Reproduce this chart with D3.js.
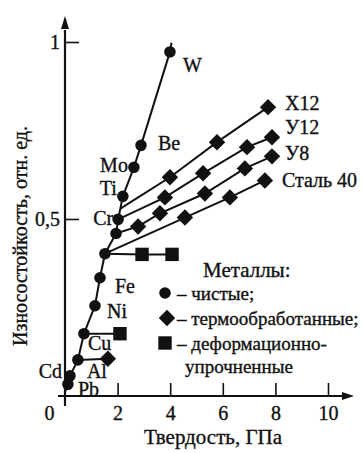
<!DOCTYPE html>
<html>
<head>
<meta charset="utf-8">
<script src="https://cdn.jsdelivr.net/npm/d3@7"></script>
<style>
  body { margin: 0; background: #fff; }
  svg text { font-family: "Liberation Serif", "DejaVu Serif", serif; fill: #111; stroke: #111; stroke-width: 0.35px; }
</style>
</head>
<body>
<div id="chart"></div>
<script>
// ---- data (hardness, GPa ; wear resistance, rel. units) ----
const pureNames = ["", "Pb", "Cd", "Al", "Cu", "Ni", "Fe", "", "", "Cr", "Ti", "Mo", "Be", "W", ""];
const pureX = [0.03, 0.11, 0.19, 0.49, 0.72, 1.14, 1.33, 1.52, 1.94, 2.02, 2.20, 2.62, 2.89, 3.99, 4.05];
const pureY = [0.015, 0.033, 0.057, 0.102, 0.176, 0.255, 0.334, 0.402, 0.459, 0.499, 0.564, 0.646, 0.708, 0.972, 0.998];
const pureDot = [false, true, true, true, true, true, true, true, true, true, true, true, true, true, false];

const steelNames = ["Х12", "У12", "У8", "Сталь 40"];
const steelStart = [[2.12, 0.53], [2.02, 0.499], [1.94, 0.459], [1.52, 0.402]];
const steelX = [
    [3.99, 5.78, 7.72],
    [3.80, 5.25, 6.92, 7.87],
    [2.78, 3.61, 5.32, 6.84, 7.87],
    [4.56, 6.27, 7.60]
];
const steelY = [
    [0.618, 0.717, 0.816],
    [0.561, 0.629, 0.703, 0.731],
    [0.479, 0.516, 0.572, 0.643, 0.677],
    [0.504, 0.561, 0.609]
];

// Al heat treated
const alStart = [0.49, 0.102];
const alX = [1.63];
const alY = [0.105];

// deformation hardened
const deformStart = [[1.52, 0.402], [0.72, 0.176]];
const deformX = [[2.93, 4.07], [2.09]];
const deformY = [[0.40, 0.40], [0.176]];

const xTicks = [0, 2, 4, 6, 8, 10];
const yTicks = [0.5, 1];

const legendTitle = "Металлы:";
const legendItems = ["– чистые;", "– термообработанные;", "– деформационно-"];
const legendExtra = "упрочненные";

// ---- layout ----
const W = 363, H = 453;
const fontSize = 20;

// label offsets in px, relative to their point
const pureLabelPos = {
    "Pb": [10, 5, "start"], "Cd": [-8, -5, "end"], "Al": [9, 11, "start"],
    "Cu": [4, 9, "start"], "Ni": [12, 5, "start"], "Fe": [15, 8, "start"],
    "Cr": [-5, -1, "end"], "Ti": [-6, -8, "end"], "Mo": [-6, -2, "end"],
    "Be": [17, -2, "start"], "W": [13, 13, "start"]
};
const steelLabelPos = [[17, -4], [13, -10], [13, -3], [17, 0]];

const svg = d3.select("#chart").append("svg")
    .attr("width", W)
    .attr("height", H);

svg.append("rect").attr("width", W).attr("height", H).attr("fill", "#fff");

const x = d3.scaleLinear().domain([0, 10]).range([65, 328]);
const y = d3.scaleLinear().domain([0, 1]).range([396, 42]);

const ru = d3.formatLocale({ decimal: ",", thousands: " ", grouping: [3], currency: ["", ""] });

// x axis
const gx = svg.append("g")
    .attr("transform", `translate(0,${y(0)})`)
    .call(d3.axisBottom(x).tickValues(xTicks).tickSize(-13).tickPadding(10));
gx.select(".domain").remove();
gx.selectAll(".tick line").attr("stroke", "#111").attr("stroke-width", 1.6);
gx.selectAll(".tick text").style("font-size", fontSize + "px");
gx.selectAll(".tick").filter(d => d === 0).select("line").remove();
gx.selectAll(".tick").filter(d => d === 0).select("text").attr("x", -16);

// y axis
const gy = svg.append("g")
    .attr("transform", `translate(${x(0)},0)`)
    .call(d3.axisLeft(y).tickValues(yTicks).tickSize(-14).tickPadding(5).tickFormat(ru.format("~g")));
gy.select(".domain").remove();
gy.selectAll(".tick line").attr("stroke", "#111").attr("stroke-width", 1.6);
gy.selectAll(".tick text").style("font-size", fontSize + "px");

// axis lines with arrows
svg.append("line")
    .attr("x1", x(0) - 7).attr("x2", x(10) + 16)
    .attr("y1", y(0)).attr("y2", y(0))
    .attr("stroke", "#111").attr("stroke-width", 2.2);
svg.append("path")
    .attr("d", `M${x(10) + 26},${y(0)} L${x(10) + 14},${y(0) - 4} L${x(10) + 14},${y(0) + 4} Z`)
    .attr("fill", "#111");
svg.append("line")
    .attr("x1", x(0)).attr("x2", x(0))
    .attr("y1", y(0) + 10).attr("y2", y(1) - 12)
    .attr("stroke", "#111").attr("stroke-width", 2.2);
svg.append("path")
    .attr("d", `M${x(0)},${y(1) - 26} L${x(0) - 4},${y(1) - 13} L${x(0) + 4},${y(1) - 13} Z`)
    .attr("fill", "#111");

// axis titles
svg.append("text")
    .attr("x", 213).attr("y", 437)
    .attr("text-anchor", "middle")
    .attr("dominant-baseline", "central")
    .style("font-size", "21px")
    .text("Твердость, ГПа");

svg.append("text")
    .attr("transform", "translate(20,236) rotate(-90)")
    .attr("text-anchor", "middle")
    .attr("dominant-baseline", "central")
    .style("font-size", fontSize + "px")
    .text("Износостойкость, отн. ед.");

const line = d3.line().x(d => x(d[0])).y(d => y(d[1]));
const lineStyle = sel => sel.attr("fill", "none").attr("stroke", "#111").attr("stroke-width", 2);

const circleSym = d3.symbol(d3.symbolCircle, 105);
const diamondSym = d3.symbol(d3.symbolSquare, 135);
const squareSym = d3.symbol(d3.symbolSquare, 180);

// steel lines (heat treated)
steelNames.forEach((name, i) => {
    const pts = [steelStart[i]].concat(steelX[i].map((v, j) => [v, steelY[i][j]]));
    svg.append("path").attr("d", line(pts)).call(lineStyle);
    svg.selectAll(null)
        .data(pts.slice(1))
        .enter().append("path")
        .attr("d", diamondSym)
        .attr("transform", d => `translate(${x(d[0])},${y(d[1])}) rotate(45)`)
        .attr("fill", "#111");
    const last = pts[pts.length - 1];
    svg.append("text")
        .attr("x", x(last[0]) + steelLabelPos[i][0])
        .attr("y", y(last[1]) + steelLabelPos[i][1])
        .attr("dominant-baseline", "central")
        .style("font-size", fontSize + "px")
        .text(name);
});

// Al heat treated
{
    const pts = [alStart].concat(alX.map((v, j) => [v, alY[j]]));
    svg.append("path").attr("d", line(pts)).call(lineStyle);
    svg.selectAll(null)
        .data(pts.slice(1))
        .enter().append("path")
        .attr("d", diamondSym)
        .attr("transform", d => `translate(${x(d[0])},${y(d[1])}) rotate(45)`)
        .attr("fill", "#111");
}

// deformation hardened
deformStart.forEach((s, i) => {
    const pts = [s].concat(deformX[i].map((v, j) => [v, deformY[i][j]]));
    svg.append("path").attr("d", line(pts)).call(lineStyle);
    svg.selectAll(null)
        .data(pts.slice(1))
        .enter().append("path")
        .attr("d", squareSym)
        .attr("transform", d => `translate(${x(d[0])},${y(d[1])})`)
        .attr("fill", "#111");
});

// pure metals
const purePts = pureX.map((v, i) => [v, pureY[i]]);
svg.append("path").attr("d", line(purePts)).call(lineStyle);
svg.selectAll(".pure")
    .data(purePts.filter((d, i) => pureDot[i]))
    .enter().append("path")
    .attr("class", "pure")
    .attr("d", circleSym)
    .attr("transform", d => `translate(${x(d[0])},${y(d[1])})`)
    .attr("fill", "#111");

pureNames.forEach((name, i) => {
    if (!name) return;
    const p = pureLabelPos[name];
    svg.append("text")
        .attr("x", x(pureX[i]) + p[0])
        .attr("y", y(pureY[i]) + p[1])
        .attr("text-anchor", p[2])
        .attr("dominant-baseline", "central")
        .style("font-size", fontSize + "px")
        .text(name);
});

// legend
const lg = svg.append("g");
lg.append("text")
    .attr("x", 203).attr("y", 270)
    .attr("dominant-baseline", "central")
    .style("font-size", "21px")
    .text(legendTitle);

const legendSyms = [circleSym, diamondSym, squareSym];
const legendRot = [0, 45, 0];
const legendRowY = [293, 318, 343];
legendItems.forEach((t, i) => {
    lg.append("path")
        .attr("d", legendSyms[i])
        .attr("transform", `translate(${i === 1 ? 167 : 165},${legendRowY[i]}) rotate(${legendRot[i]})`)
        .attr("fill", "#111");
    lg.append("text")
        .attr("x", 177).attr("y", legendRowY[i])
        .attr("dominant-baseline", "central")
        .style("font-size", "19px")
        .text(t);
});
lg.append("text")
    .attr("x", 185).attr("y", 366)
    .attr("dominant-baseline", "central")
    .style("font-size", "19px")
    .text(legendExtra);
</script>
</body>
</html>
